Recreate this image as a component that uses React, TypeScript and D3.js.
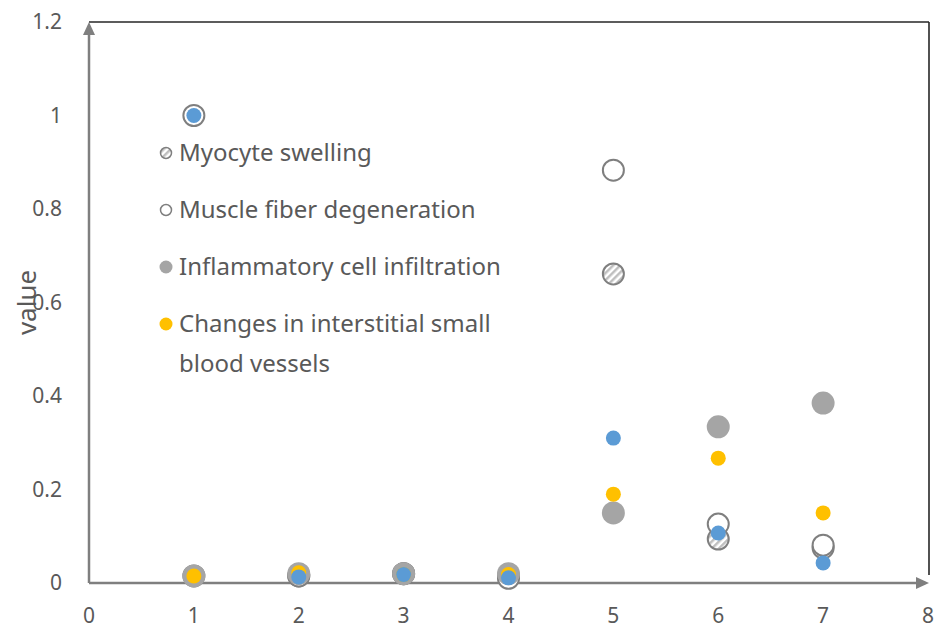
import React from "react";
import * as d3 from "d3";

const xValues = [1, 2, 3, 4, 5, 6, 7];
const myocyteSwelling = [0.015, 0.015, 0.02, 0.015, 0.661, 0.094, 0.075];
const muscleFiberDegeneration = [1.0, 0.015, 0.02, 0.01, 0.883, 0.126, 0.081];
const inflammatoryInfiltration = [0.015, 0.02, 0.02, 0.02, 0.15, 0.334, 0.385];
const interstitialVessels = [0.015, 0.022, 0.018, 0.018, 0.19, 0.267, 0.15];
const extraSeries = [1.0, 0.013, 0.018, 0.011, 0.31, 0.107, 0.043];
const xTicks = [0, 1, 2, 3, 4, 5, 6, 7, 8];
const yTicks = [0, 0.2, 0.4, 0.6, 0.8, 1, 1.2];
const legendLabels = [
  "Myocyte swelling",
  "Muscle fiber degeneration",
  "Inflammatory cell infiltration",
  "Changes in interstitial small",
];

const W = 935;
const H = 631;
const FONT = "'Noto Sans', 'Open Sans', sans-serif";
const TEXT = "#595959";
const AXIS = "#7f7f7f";

export default function App() {
  const x = d3.scaleLinear().domain([0, 8]).range([89, 928]);
  const y = d3.scaleLinear().domain([0, 1.2]).range([583, 22]);

  const series = [
    { key: "hatch", values: myocyteSwelling, r: 10.5, fill: "url(#hatch)", stroke: AXIS, sw: 2 },
    { key: "open", values: muscleFiberDegeneration, r: 10.5, fill: "#ffffff", stroke: AXIS, sw: 2 },
    { key: "gray", values: inflammatoryInfiltration, r: 11.5, fill: "#a5a5a5", stroke: "none", sw: 0 },
    { key: "yellow", values: interstitialVessels, r: 7.5, fill: "#ffc000", stroke: "none", sw: 0 },
    { key: "blue", values: extraSeries, r: 7.5, fill: "#5b9bd5", stroke: "none", sw: 0 },
  ];

  const legendY = [153, 210, 267, 324];

  return (
    <svg
      width={W}
      height={H}
      style={{ position: "absolute", left: 0, top: 0, display: "block", background: "#fff" }}
    >
      <defs>
        <pattern id="hatch" width="5" height="5" patternUnits="userSpaceOnUse" patternTransform="rotate(-45)">
          <rect width="5" height="5" fill="#ffffff" />
          <rect width="5" height="2.5" fill="#bfbfbf" />
        </pattern>
      </defs>

      {/* frame: top and right borders */}
      <line x1={x(0)} y1={y(1.2)} x2={x(8) + 1} y2={y(1.2)} stroke="#262626" strokeWidth={1.6} />
      <line x1={x(8) + 1} y1={y(1.2)} x2={x(8) + 1} y2={y(0) - 8} stroke="#262626" strokeWidth={1.6} />

      {/* axes with arrowheads */}
      <line x1={x(0)} y1={y(0)} x2={x(0)} y2={y(1.2) + 8} stroke={AXIS} strokeWidth={2.5} />
      <path
        d={`M${x(0)},${y(1.2)} L${x(0) - 6},${y(1.2) + 13} L${x(0) + 6},${y(1.2) + 13} Z`}
        fill={AXIS}
      />
      <line x1={x(0)} y1={y(0)} x2={x(8) - 8} y2={y(0)} stroke={AXIS} strokeWidth={2.5} />
      <path
        d={`M${x(8) + 1},${y(0)} L${x(8) - 12},${y(0) - 6} L${x(8) - 12},${y(0) + 6} Z`}
        fill={AXIS}
      />

      {/* tick labels */}
      {yTicks.map((t) => (
        <text
          key={`y${t}`}
          x={62}
          y={y(t)}
          dy="0.35em"
          textAnchor="end"
          fontFamily={FONT}
          fontSize={21}
          fill={TEXT}
        >
          {String(t)}
        </text>
      ))}
      {xTicks.map((t) => (
        <text
          key={`x${t}`}
          x={x(t)}
          y={623}
          textAnchor="middle"
          fontFamily={FONT}
          fontSize={21}
          fill={TEXT}
        >
          {String(t)}
        </text>
      ))}

      <text
        transform={`translate(27,${y(0.6)}) rotate(-90)`}
        textAnchor="middle"
        dy="0.35em"
        fontFamily={FONT}
        fontSize={26}
        fill={TEXT}
      >
        value
      </text>

      {/* points */}
      {series.map((s) => (
        <g key={s.key}>
          {s.values.map((v, i) => (
            <circle
              key={i}
              cx={x(xValues[i])}
              cy={y(v)}
              r={s.r}
              fill={s.fill}
              stroke={s.stroke}
              strokeWidth={s.sw}
            />
          ))}
        </g>
      ))}

      {/* legend */}
      {legendLabels.map((label, i) => {
        const s = series[i];
        return (
          <g key={label}>
            <circle
              cx={166}
              cy={legendY[i]}
              r={s.key === "gray" || s.key === "yellow" ? 6.5 : 5.5}
              fill={s.fill}
              stroke={s.stroke}
              strokeWidth={s.sw ? 1.5 : 0}
            />
            <text x={179} y={legendY[i]} dy="0.35em" fontFamily={FONT} fontSize={24} fill={TEXT}>
              {label}
            </text>
          </g>
        );
      })}
      <text x={179} y={364} dy="0.35em" fontFamily={FONT} fontSize={24} fill={TEXT}>
        blood vessels
      </text>
    </svg>
  );
}
